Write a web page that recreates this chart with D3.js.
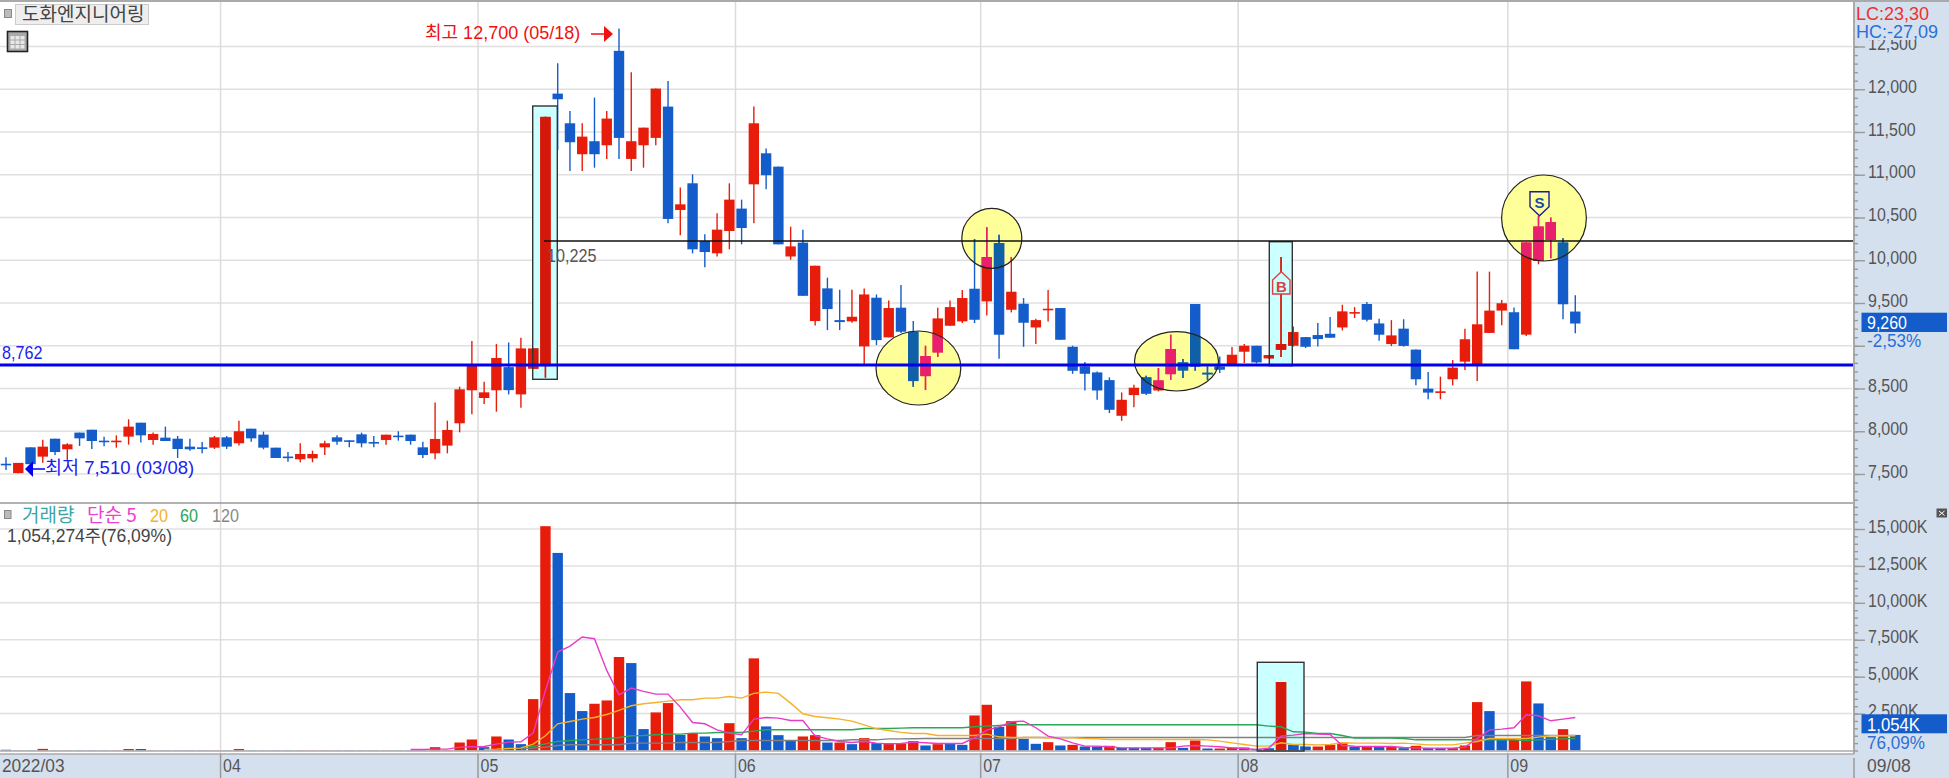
<!DOCTYPE html>
<html>
<head>
<meta charset="utf-8">
<script src="https://cdn.jsdelivr.net/npm/d3@7"></script>
<style>
    body { margin: 0; background: #fff; }
    svg { display: block; }
    text { font-family: 'Liberation Sans', 'Noto Sans CJK KR', sans-serif; }
</style>
</head>
<body>
<div id="chart"></div>
<script>
// daily candles, 2022/03/07 to 2022/09/08
const opens = [
    7620,7510,7812,7703,7913,7789,7984,8018,7890,7882,
    7937,8100,7898,7925,7913,7820,7812,7808,7929,7859,
    8030,7960,7808,7704,7672,7683,7812,7929,7894,7964,
    7874,7898,7949,7960,7812,7742,7832,8093,8479,8389,
    8479,8750,8431,8731,8762,11949,11602,11240,11392,11345,
    12449,11185,11345,11431,11797,10588,10900,10225,10081,10342,
    10604,10888,11251,11095,10044,10206,9289,9671,9300,9285,
    8992,9562,9098,9445,9164,8645,8922,9234,9285,9667,
    9519,10201,9421,9491,9214,9425,9441,8988,8758,8688,
    8598,8181,8423,8630,8477,8668,8805,9488,8684,8758,
    8770,8930,9000,8852,8953,9000,9101,9125,9140,9214,
    9386,9488,9261,9020,9200,8955,8498,8459,8608,8814,
    8775,9150,9411,9392,9130,9992,10238,10207,9400
]
const closes = [
    7610,7630,7615,7820,7757,7847,7917,7886,7882,7890,
    8054,7952,7968,7886,7792,7789,7800,7929,7820,8000,
    7917,7808,7687,7696,7734,7734,7859,7878,7886,7859,
    7866,7960,7941,7886,7722,7910,8015,8490,8764,8455,
    8857,8481,8969,8969,11677,11883,11380,11446,11240,11657,
    11431,11392,11551,12008,10483,10654,10128,10096,10358,10709,
    10377,11602,10994,10186,10162,9584,9936,9429,9277,9339,
    9600,9066,9441,9164,8587,8879,9320,9452,9558,9304,
    10037,9129,9632,9269,9300,9433,9070,8707,8672,8477,
    8251,8368,8509,8438,8594,8961,8711,8758,8676,8719,
    8895,9000,8805,8891,9020,9160,8988,9078,9094,9402,
    9394,9304,9129,9121,8998,8608,8452,8467,8744,9076,
    9251,9411,9497,8959,10207,10394,10445,9485,9260
]
const highs = [
    7695,7630,7812,7900,7913,7859,7984,8018,7937,7952,
    8140,8100,7984,8054,7945,7913,7874,7945,7945,8124,
    8030,7995,7808,7757,7859,7773,7890,7952,7894,7984,
    7945,7960,8000,7960,7878,8335,8124,8522,9056,8580,
    9020,9039,9094,8969,11677,12304,11746,11602,11902,11746,
    12710,12199,11551,12008,12097,10850,11005,10303,10549,10900,
    10709,11797,11306,11095,10393,10358,9936,9796,9655,9655,
    9671,9600,9530,9710,9289,9000,9445,9530,9651,10248,
    10385,10299,10037,9558,9316,9651,9441,9000,8809,8700,
    8630,8454,8544,8649,8739,9129,8844,9488,8758,8875,
    8984,9020,9000,8891,10037,9226,9101,9265,9335,9480,
    9452,9511,9316,9300,9310,8955,8694,8639,8834,9200,
    9867,9867,9536,9446,10207,10519,10500,10257,9590
]
const lows = [
    7547,7510,7610,7633,7722,7664,7828,7792,7824,7808,
    7843,7867,7843,7886,7687,7773,7742,7792,7792,7832,
    7878,7789,7687,7644,7637,7637,7722,7843,7812,7812,
    7812,7843,7890,7843,7687,7672,7742,7987,8198,8319,
    8229,8431,8275,8731,8625,11290,11045,11045,11083,11185,
    11185,11045,11083,11345,10432,10292,10081,9919,10044,10128,
    10186,10432,10830,10186,10006,9584,9238,9183,9183,9269,
    8774,9008,9098,9150,8520,8481,8871,9234,9265,9265,
    9355,8848,9390,8988,9020,9285,9070,8672,8477,8368,
    8212,8122,8282,8423,8466,8602,8622,8707,8602,8680,
    8770,8797,8793,8852,8867,8992,8973,8992,9094,9179,
    9324,9285,9059,8996,8990,8537,8374,8374,8537,8717,
    8588,9150,9240,8959,9115,9953,10023,9310,9146
]

// volume in thousands of shares and the colour of each bar
const volumes = [
    50,15,15,110,15,15,15,15,15,15,
    100,100,15,15,15,15,15,15,15,100,
    15,15,15,15,15,15,15,15,15,15,
    15,15,15,15,15,226,30,540,745,226,
    950,745,430,3480,15190,13380,3890,2670,3165,3390,
    6330,5920,1450,2580,3210,1060,1175,950,836,1850,
    836,6240,1630,1040,680,950,1040,540,540,430,
    836,500,500,475,633,340,430,497,384,2373,
    3096,1605,1990,790,452,565,340,384,270,270,
    316,180,180,180,180,565,180,678,135,135,
    203,203,90,135,4633,384,270,270,384,520,
    270,270,270,270,158,316,158,158,158,339,
    3277,2667,723,723,4678,3187,904,1446,1054
]
const volumeColors = (
    'brbrbrbbbr' + 'rbrbbbbrbr' + 'bbbbrrrbbb' + 'brbbbrrrrb' +
    'rbbrrbbbrr' + 'rbbrrbrbbr' + 'brbbbrrbrb' + 'rbrrrbrbbr' +
    'rbrbbrbrbb' + 'rbbbrrbrbr' + 'rrbbrbbrrr' + 'brbrbrbbrr' + 'rbbrrbbrb'
).split('')

// volume moving averages, each starts at the index given below it
const ma5 = [
    68,68,90,90,226,249,271,430,565,588,
    1175,4068,6667,7074,7684,7571,5424,3774,4226,4000,
    3819,3819,2938,1898,1808,1401,1175,1062,2124,2237,
    2192,2034,2034,994,791,610,542,610,497,452,
    470,565,520,475,475,475,860,1380,1600,1945,
    1990,1540,970,790,520,294,294,250,180,180,
    180,180,180,294,340,294,250,180,135,68,
    158,970,1040,1150,1107,1085,340,294,271,271,
    271,203,180,158,158,158,226,814,1380,1446,
    1537,2418,2350,2011,2124,2237
]
const ma5Start = 33
const ma20 = [
    68,90,136,158,430,995,1808,1966,2124,2237,
    2441,2712,3028,3164,3254,3345,3435,3435,3548,3548,
    3661,3548,3865,3955,3865,3209,2486,2305,2215,2124,
    1989,1740,1469,1356,1230,1153,1153,1017,1017,1017,
    1017,1107,927,881,881,881,859,859,859,814,
    791,746,746,746,746,746,746,746,746,723,
    633,520,407,294,294,520,407,407,384,407,
    520,497,497,497,475,497,452,384,384,384,
    497,610,814,814,814,814,904,994,994,994
]
const ma20Start = 39
const ma60 = [
    226,271,452,610,678,723,768,791,
    881,994,1017,1062,1107,1107,1175,1175,1220,1220,
    1220,1311,1401,1401,1401,1401,1401,1401,1401,1401,
    1491,1491,1491,1515,1537,1537,1537,1537,1537,1605,
    1650,1695,1740,1740,1740,1740,1740,1740,1740,1740,
    1740,1740,1740,1740,1740,1740,1740,1740,1740,1740,1740,1740,1740,
    1650,1605,1265,1243,1153,1153,1017,
    836,836,836,836,814,
    723,723,723,723,723,723,723,723,723,678,723,760,790,814
]
const ma60Start = 42
const ma120 = [
    90,158,226,339,385,385,385,385,385,
    497,497,497,497,542,542,542,542,610,
    678,678,678,678,678,678,678,678,678,
    723,723,723,790,790,800,
    814,814,814,814,814,814,814,814,
    881,881,881,881,881,881,881,
    881,881,881,881,881,881,881,881,881,881,
    881,881,881,881,881,881,881,881,881,881,
    881,881,881,881,881,881,881,881,881,881,
    1017,1017,1017,1017,1017,1017,1017,1017,1017
]
const ma120Start = 42

// axis values and labels
const priceTicks = [7500, 8000, 8500, 9000, 9500, 10000, 10500, 11000, 11500, 12000, 12500]
const priceMinorTicks = d3.range(7200, 12900, 100)
const volumeTicks = [2500, 5000, 7500, 10000, 12500, 15000]
const volumeMinorTicks = d3.range(0, 16600, 500)
const monthStarts = [18, 39, 60, 80, 101, 123]
const monthLabels = ['04', '05', '06', '07', '08', '09']

const support = 8775
const resistance = 10225

// page and pane layout
const width = 1949
const height = 778
const plotRight = 1854
const paneSplit = 503
const bottomBand = 754

const red = '#e81c0a'
const blue = '#135cca'
const axisFill = '#d5e0ee'
const gridColor = '#e0e0e0'
const labelColor = '#555'

const x = d3.scaleBand()
    .domain(d3.range(opens.length))
    .range([-0.13, -0.13 + opens.length * 12.26])
const center = i => x(i) + x.bandwidth() / 2

const priceY = d3.scaleLinear()
    .domain([7500, 12500])
    .range([474, 46.5])
const volumeY = d3.scaleLinear()
    .domain([0, 15000])
    .range([750.5, 529])

const svg = d3.select('#chart')
    .append('svg')
    .attr('width', width)
    .attr('height', height)

// the original font is narrow, so latin text gets squeezed by a factor
const squeezeText = (sel, factor) => {
    sel.each(function () {
        const len = this.getComputedTextLength()
        if (len > 0) {
            d3.select(this)
                .attr('textLength', len * factor)
                .attr('lengthAdjust', 'spacingAndGlyphs')
        }
    })
}

const addText = (parent, px, py, str, color, size, factor, weight) => {
    const t = parent.append('text')
        .attr('x', px)
        .attr('y', py)
        .attr('fill', color)
        .attr('font-size', size + 'px')
        .attr('font-weight', weight || 'normal')
        .text(str)
    if (factor) {
        t.call(squeezeText, factor)
    }
    return t
}

// ---- grid
const grid = svg.append('g')
grid.selectAll('.priceGrid')
    .data(priceTicks)
    .enter()
    .append('line')
        .attr('x1', 0)
        .attr('x2', plotRight - 2)
        .attr('y1', d => priceY(d))
        .attr('y2', d => priceY(d))
        .attr('stroke', gridColor)
        .attr('stroke-width', 1.5)
grid.selectAll('.volumeGrid')
    .data(volumeTicks)
    .enter()
    .append('line')
        .attr('x1', 0)
        .attr('x2', plotRight - 2)
        .attr('y1', d => volumeY(d))
        .attr('y2', d => volumeY(d))
        .attr('stroke', gridColor)
        .attr('stroke-width', 1.5)
grid.selectAll('.monthGrid')
    .data(monthStarts)
    .enter()
    .append('line')
        .attr('x1', d => x(d))
        .attr('x2', d => x(d))
        .attr('y1', 2)
        .attr('y2', bottomBand)
        .attr('stroke', '#dcdcdc')
        .attr('stroke-width', 1.5)

// ---- highlighted regions drawn behind the marks
const ellipses = [
    {cx: 918.4, cy: 368, rx: 42.4, ry: 37},
    {cx: 991.8, cy: 238.3, rx: 30, ry: 30},
    {cx: 1176.5, cy: 361.3, rx: 42, ry: 29.7},
    {cx: 1544, cy: 218, rx: 42.4, ry: 43}
]
const boxes = [
    {x: 532.7, y: 106, w: 24.6, h: 273.3},
    {x: 1269.3, y: 241.7, w: 23, h: 124},
    {x: 1257.3, y: 662.3, w: 46.7, h: 88.7}
]
const defs = svg.append('defs')
ellipses.forEach((d, i) => {
    defs.append('clipPath').attr('id', 'ell' + i)
        .append('ellipse')
        .attr('cx', d.cx).attr('cy', d.cy).attr('rx', d.rx).attr('ry', d.ry)
})
boxes.forEach((d, i) => {
    defs.append('clipPath').attr('id', 'box' + i)
        .append('rect')
        .attr('x', d.x).attr('y', d.y).attr('width', d.w).attr('height', d.h)
})

svg.selectAll('.ellFill')
    .data(ellipses)
    .enter()
    .append('ellipse')
        .attr('cx', d => d.cx)
        .attr('cy', d => d.cy)
        .attr('rx', d => d.rx)
        .attr('ry', d => d.ry)
        .attr('fill', '#ffff99')
svg.selectAll('.boxFill')
    .data(boxes)
    .enter()
    .append('rect')
        .attr('x', d => d.x)
        .attr('y', d => d.y)
        .attr('width', d => d.w)
        .attr('height', d => d.h)
        .attr('fill', '#ccffff')

// ---- candles and volume bars, called again below for the tinted overlaps
const drawCandles = (parent, upColor, downColor) => {
    const g = parent.append('g')
    const color = i => closes[i] >= opens[i] ? upColor : downColor
    g.selectAll('line')
        .data(opens)
        .enter()
        .append('line')
            .attr('x1', (d, i) => center(i))
            .attr('x2', (d, i) => center(i))
            .attr('y1', (d, i) => priceY(highs[i]))
            .attr('y2', (d, i) => priceY(lows[i]))
            .attr('stroke', (d, i) => color(i))
            .attr('stroke-width', 1.4)
    g.selectAll('rect')
        .data(opens)
        .enter()
        .append('rect')
            .attr('x', (d, i) => center(i) - 5.2)
            .attr('width', 10.4)
            .attr('y', (d, i) => priceY(Math.max(opens[i], closes[i])))
            .attr('height', (d, i) => Math.max(1.6, Math.abs(priceY(opens[i]) - priceY(closes[i]))))
            .attr('fill', (d, i) => color(i))
}

const drawVolumes = (parent, upColor, downColor) => {
    parent.append('g')
        .selectAll('rect')
        .data(volumes)
        .enter()
        .append('rect')
            .attr('x', (d, i) => center(i) - 5.2)
            .attr('width', 10.4)
            .attr('y', d => volumeY(d))
            .attr('height', d => volumeY(0) - volumeY(d))
            .attr('fill', (d, i) => volumeColors[i] === 'r' ? upColor : downColor)
}

drawCandles(svg, red, blue)
ellipses.forEach((d, i) => {
    drawCandles(svg.append('g').attr('clip-path', `url(#ell${i})`), '#e8206e', '#1060a8')
})
drawCandles(svg.append('g').attr('clip-path', 'url(#box0)'), '#d4190a', blue)
drawCandles(svg.append('g').attr('clip-path', 'url(#box1)'), '#d4190a', blue)

drawVolumes(svg, red, blue)
drawVolumes(svg.append('g').attr('clip-path', 'url(#box2)'), '#d4190a', blue)

// baseline under the bars
svg.append('line')
    .attr('x1', 0).attr('x2', plotRight)
    .attr('y1', volumeY(0) + 0.5).attr('y2', volumeY(0) + 0.5)
    .attr('stroke', '#aaa')
    .attr('stroke-width', 1.6)

// ---- moving averages
const plotMa = (values, start, color) => {
    const line = d3.line()
        .x((d, i) => center(i + start))
        .y(d => volumeY(d))
    svg.append('path')
        .attr('d', line(values))
        .attr('fill', 'none')
        .attr('stroke', color)
        .attr('stroke-width', 1.4)
}
plotMa(ma120, ma120Start, '#808080')
plotMa(ma60, ma60Start, '#2aa655')
plotMa(ma20, ma20Start, '#f5b12a')
plotMa(ma5, ma5Start, '#e83cc8')

// ---- outlines of the highlights, level lines and signals on top
svg.selectAll('.ellLine')
    .data(ellipses)
    .enter()
    .append('ellipse')
        .attr('cx', d => d.cx)
        .attr('cy', d => d.cy)
        .attr('rx', d => d.rx)
        .attr('ry', d => d.ry)
        .attr('fill', 'none')
        .attr('stroke', '#222')
        .attr('stroke-width', 1.2)
svg.selectAll('.boxLine')
    .data(boxes)
    .enter()
    .append('rect')
        .attr('x', d => d.x)
        .attr('y', d => d.y)
        .attr('width', d => d.w)
        .attr('height', d => d.h)
        .attr('fill', 'none')
        .attr('stroke', '#333')
        .attr('stroke-width', 1.4)

svg.append('line')
    .attr('x1', 544).attr('x2', plotRight)
    .attr('y1', priceY(resistance)).attr('y2', priceY(resistance))
    .attr('stroke', '#111')
    .attr('stroke-width', 1.6)
svg.append('line')
    .attr('x1', 0).attr('x2', plotRight)
    .attr('y1', priceY(support)).attr('y2', priceY(support))
    .attr('stroke', '#0000ee')
    .attr('stroke-width', 2.8)

// buy and sell markers
svg.append('path')
    .attr('d', 'M1281.3,271.7 L1290,280 L1290,294 L1272.6,294 L1272.6,280 Z')
    .attr('fill', '#ccffff')
    .attr('stroke', '#e04040')
    .attr('stroke-width', 1.4)
addText(svg, 1281.3, 292, 'B', '#e04040', 15, 0, 'bold').attr('text-anchor', 'middle')
svg.append('path')
    .attr('d', 'M1530,191.7 L1549,191.7 L1549,206.7 L1539.5,215.7 L1530,206.7 Z')
    .attr('fill', '#ffff99')
    .attr('stroke', '#1a1a9a')
    .attr('stroke-width', 1.4)
addText(svg, 1539.5, 208, 'S', '#1a4ab0', 15, 0, 'bold').attr('text-anchor', 'middle')

// high and low annotations
addText(svg, 425, 39, '최고 12,700 (05/18)', '#f01010', 18)
svg.append('line').attr('x1', 591).attr('x2', 605).attr('y1', 34).attr('y2', 34).attr('stroke', '#f01010').attr('stroke-width', 1.5)
svg.append('path').attr('d', 'M613,34 L604,26 L604,42 Z').attr('fill', '#f01010')
addText(svg, 45, 474, '최저 7,510 (03/08)', '#2222ee', 18.5)
svg.append('line').attr('x1', 32).attr('x2', 45).attr('y1', 469).attr('y2', 469).attr('stroke', '#0000ee').attr('stroke-width', 1.5)
svg.append('path').attr('d', 'M25,469 L33,461 L33,477 Z').attr('fill', '#0000ee')
addText(svg, 2, 359, '8,762', '#2222ee', 19, 0.85)
addText(svg, 547, 262, '10,225', labelColor, 19, 0.85)

// ---- frames and the axis areas
svg.append('rect').attr('x', plotRight).attr('y', 2).attr('width', width - plotRight).attr('height', height).attr('fill', axisFill)
svg.append('rect').attr('x', 0).attr('y', bottomBand).attr('width', width).attr('height', height - bottomBand).attr('fill', axisFill)
svg.append('line').attr('x1', 0).attr('x2', width).attr('y1', 1).attr('y2', 1).attr('stroke', '#aaa').attr('stroke-width', 2)
svg.append('line').attr('x1', 0).attr('x2', plotRight).attr('y1', paneSplit).attr('y2', paneSplit).attr('stroke', '#999').attr('stroke-width', 1.6)
svg.append('line').attr('x1', 0).attr('x2', plotRight).attr('y1', bottomBand).attr('y2', bottomBand).attr('stroke', '#aaa').attr('stroke-width', 1.6)
svg.append('line').attr('x1', plotRight).attr('x2', plotRight).attr('y1', 2).attr('y2', bottomBand).attr('stroke', '#aaa').attr('stroke-width', 2)
svg.append('line').attr('x1', plotRight).attr('x2', plotRight).attr('y1', 758).attr('y2', height).attr('stroke', '#999').attr('stroke-width', 1.5)

// right axes, one for the labelled ticks and one for the small ones
const styleAxis = g => {
    g.select('.domain').remove()
    g.selectAll('.tick line').attr('stroke', '#999').attr('stroke-width', 1.4)
    g.selectAll('.tick text')
        .attr('fill', labelColor)
        .attr('font-size', '19px')
        .attr('font-family', null)
        .attr('dy', '0.17em')
        .call(squeezeText, 0.84)
}
svg.append('g')
    .attr('transform', `translate(${plotRight}, 0)`)
    .call(d3.axisRight(priceY).tickValues(priceMinorTicks).tickSize(4).tickFormat(''))
    .call(styleAxis)
// the 9,000 label is hidden by the price tag in the original
svg.append('g')
    .attr('transform', `translate(${plotRight}, 0)`)
    .call(d3.axisRight(priceY).tickValues(priceTicks).tickSize(11).tickPadding(3).tickFormat(d => d === 9000 ? '' : d3.format(',')(d)))
    .call(styleAxis)
svg.append('g')
    .attr('transform', `translate(${plotRight}, 0)`)
    .call(d3.axisRight(volumeY).tickValues(volumeMinorTicks).tickSize(4).tickFormat(''))
    .call(styleAxis)
svg.append('g')
    .attr('transform', `translate(${plotRight}, 0)`)
    .call(d3.axisRight(volumeY).tickValues(volumeTicks).tickSize(11).tickPadding(3).tickFormat(d => d3.format(',')(d) + 'K'))
    .call(styleAxis)

// LC / HC readout hides the top of the 12,500 label
svg.append('rect').attr('x', plotRight + 1).attr('y', 2).attr('width', width - plotRight).attr('height', 38).attr('fill', axisFill)
addText(svg, 1856, 20, 'LC:23,30', '#ee3030', 18)
addText(svg, 1856, 38, 'HC:-27,09', '#2a6fd8', 18)

// current price and volume tags
svg.append('rect').attr('x', 1861.5).attr('y', 312.7).attr('width', 85.5).attr('height', 19.3).attr('fill', blue)
addText(svg, 1867, 329, '9,260', '#fff', 19, 0.84)
addText(svg, 1867, 347, '-2,53%', '#2a6fd8', 18, 0.95)
svg.append('rect').attr('x', 1861.5).attr('y', 714.3).attr('width', 85.5).attr('height', 19).attr('fill', blue)
addText(svg, 1867, 731, '1,054K', '#fff', 19, 0.88)
addText(svg, 1867, 749, '76,09%', '#2a6fd8', 18, 0.95)

// corner button of the volume pane
svg.append('rect').attr('x', 1936.5).attr('y', 508.5).attr('width', 10.5).attr('height', 9).attr('fill', '#555')
svg.append('path').attr('d', 'M1939,511 L1944.5,515.5 M1944.5,511 L1939,515.5').attr('stroke', '#fff').attr('stroke-width', 1)

// bottom date labels and their separators
svg.selectAll('.monthTick')
    .data(monthStarts)
    .enter()
    .append('line')
        .attr('x1', d => x(d))
        .attr('x2', d => x(d))
        .attr('y1', bottomBand)
        .attr('y2', height)
        .attr('stroke', '#999')
        .attr('stroke-width', 1.5)
svg.selectAll('.monthLabel')
    .data(monthLabels)
    .enter()
    .append('text')
        .attr('x', (d, i) => x(monthStarts[i]) + 2.5)
        .attr('y', 772)
        .attr('fill', labelColor)
        .attr('font-size', '19px')
        .text(d => d)
        .call(squeezeText, 0.84)
addText(svg, 2, 772, '2022/03', labelColor, 19, 0.91)
addText(svg, 1867, 772, '09/08', labelColor, 19, 0.92)

// ---- top left title, table button and the volume legend
svg.append('rect').attr('x', 4.5).attr('y', 9.5).attr('width', 7).attr('height', 8).attr('fill', '#bbb').attr('stroke', '#888')
svg.append('rect').attr('x', 15.5).attr('y', 4.5).attr('width', 133).attr('height', 20).attr('fill', '#eee').attr('stroke', '#ccc')
addText(svg, 22, 21, '도화엔지니어링', '#444', 19).style('font-family', 'Noto Sans CJK KR')

svg.append('rect').attr('x', 7.5).attr('y', 31.5).attr('width', 20).attr('height', 20).attr('fill', '#aaa').attr('stroke', '#222').attr('stroke-width', 1.6)
svg.selectAll('.cell')
    .data(d3.cross([0, 1, 2], [0, 1, 2]))
    .enter()
    .append('rect')
        .attr('x', d => 10.5 + d[0] * 5)
        .attr('y', d => 36 + d[1] * 4.5)
        .attr('width', 4)
        .attr('height', 3.5)
        .attr('fill', '#e8e8e8')

svg.append('rect').attr('x', 4.5).attr('y', 510.5).attr('width', 6.5).attr('height', 8).attr('fill', '#bbb').attr('stroke', '#888')
addText(svg, 22, 522, '거래량', '#3aa6a6', 19).style('font-family', 'Noto Sans CJK KR')
addText(svg, 87, 522, '단순 5', '#ee40d0', 19).style('font-family', 'Noto Sans CJK KR')
addText(svg, 150, 522, '20', '#f5b12a', 19, 0.85)
addText(svg, 180, 522, '60', '#2aa655', 19, 0.85)
addText(svg, 212, 522, '120', '#888', 19, 0.85)
addText(svg, 7, 542, '1,054,274주(76,09%)', '#444', 17.5)
</script>
</body>
</html>
